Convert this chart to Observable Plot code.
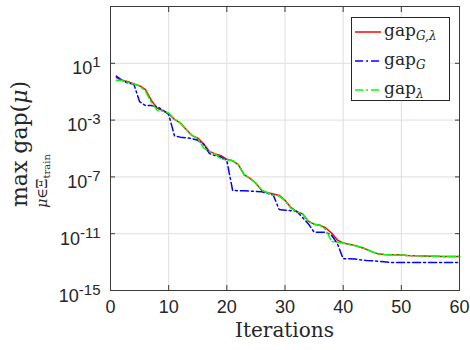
<!DOCTYPE html>
<html>
<head>
<meta charset="utf-8">
<script src="https://cdn.jsdelivr.net/npm/d3@7"></script>
<script src="https://cdn.jsdelivr.net/npm/@observablehq/plot@0.6"></script>
<style>
  html, body { margin: 0; padding: 0; background: #fff; }
  #chart { width: 470px; height: 350px; }
</style>
</head>
<body>
<div id="chart"></div>
<script>
// Iteration index
const iterations = [1,2,3,4,5,6,7,8,9,10,11,12,13,14,15,16,17,18,19,20,
  21,22,23,24,25,26,27,28,29,30,31,32,33,34,35,36,37,38,39,40,
  41,42,43,44,45,46,47,48,49,50,51,52,53,54,55,56,57,58,59,60];

// log10 of max gap
const gapGLambdaExp = [0.0,-0.2,-0.3,-0.45,-0.58,-0.85,-1.6,-2.16,-2.33,-2.55,
  -2.95,-3.2,-3.65,-4.08,-4.27,-4.67,-5.2,-5.38,-5.5,-5.76,
  -5.86,-6.15,-6.85,-7.1,-7.45,-7.95,-8.12,-8.2,-8.3,-8.65,
  -9.15,-9.45,-9.6,-10.12,-10.33,-10.4,-10.6,-10.95,-11.45,-11.65,
  -11.75,-11.83,-11.95,-12.1,-12.28,-12.42,-12.46,-12.48,-12.49,-12.5,
  -12.53,-12.55,-12.56,-12.57,-12.58,-12.59,-12.6,-12.6,-12.61,-12.61];

const gapGExp = [0.1,-0.2,-0.4,-0.45,-1.7,-1.97,-1.97,-2.05,-2.3,-2.6,
  -4.1,-4.2,-4.25,-4.3,-4.42,-4.7,-5.35,-5.5,-5.6,-5.85,
  -7.96,-7.97,-7.98,-8.0,-8.02,-8.05,-8.15,-8.3,-9.3,-9.35,
  -9.38,-9.42,-9.85,-10.3,-10.89,-10.9,-10.9,-11.1,-11.7,-12.77,
  -12.77,-12.78,-12.84,-12.88,-12.91,-12.94,-12.98,-13.02,-13.03,-13.03,
  -13.03,-13.03,-13.03,-13.03,-13.03,-13.03,-13.03,-13.03,-13.03,-13.03];

const gapLambdaExp = [-0.2,-0.2,-0.35,-0.45,-0.6,-0.95,-1.75,-2.3,-2.38,-2.5,
  -2.95,-3.2,-3.65,-4.08,-4.3,-4.95,-5.2,-5.4,-5.75,-5.78,
  -5.86,-6.15,-6.85,-7.1,-7.45,-7.95,-8.12,-8.3,-8.35,-8.65,
  -9.2,-9.45,-9.6,-10.12,-10.33,-10.4,-10.7,-11.55,-11.6,-11.65,
  -11.75,-11.83,-11.95,-12.1,-12.28,-12.42,-12.46,-12.48,-12.49,-12.5,
  -12.53,-12.55,-12.56,-12.57,-12.58,-12.59,-12.6,-12.6,-12.61,-12.61];

const xTicks = [0,10,20,30,40,50,60];
const yTicks = [1e-15,1e-11,1e-7,1e-3,1e1];

const toRows = (exps) => iterations.map((it, i) => ({it, v: Math.pow(10, exps[i])}));
const redRows = toRows(gapGLambdaExp);
const blueRows = toRows(gapGExp);
const greenRows = toRows(gapLambdaExp);

const axisColor = "#3a3a3a";
const gridColor = "#dfdfdf";

const chart = Plot.plot({
  width: 470,
  height: 350,
  marginLeft: 110,
  marginRight: 11,
  marginTop: 6,
  marginBottom: 60,
  style: {fontFamily: "'Liberation Sans', Arial, sans-serif", fontSize: "18px", color: "#262626", background: "#fff", overflow: "visible"},
  x: {domain: [0, 60]},
  y: {type: "log", domain: [1e-15, 1e5]},
  marks: [
    Plot.gridX({ticks: xTicks, stroke: gridColor, strokeOpacity: 1}),
    Plot.gridY({ticks: yTicks, stroke: gridColor, strokeOpacity: 1}),
    Plot.axisX({ticks: xTicks, tickSize: -5, tickPadding: 15, label: null, stroke: axisColor, fill: "#262626"}),
    Plot.axisX({anchor: "top", ticks: xTicks, tickSize: -5, tickFormat: () => "", label: null, stroke: axisColor}),
    Plot.axisY({ticks: yTicks, tickSize: -5, tickPadding: 15, label: null, stroke: axisColor, fill: "#262626",
      tickFormat: d => String(Math.round(Math.log10(d)))}),
    Plot.axisY({anchor: "right", ticks: yTicks, tickSize: -5, tickFormat: () => "", label: null, stroke: axisColor}),
    Plot.line(redRows, {x: "it", y: "v", stroke: "#ff0000", strokeWidth: 1.5}),
    Plot.line(blueRows, {x: "it", y: "v", stroke: "#0000ff", strokeWidth: 1.5, strokeDasharray: "8,3,2,3"}),
    Plot.line(greenRows, {x: "it", y: "v", stroke: "#00ff00", strokeWidth: 1.5, strokeDasharray: "8,3,2,3"}),
    Plot.frame({stroke: axisColor, strokeWidth: 1})
  ]
});

document.getElementById("chart").appendChild(chart);

const svg = d3.select(chart);

// y tick labels as 10^k (left axis only; right axis labels are empty)
svg.selectAll('g[aria-label="y-axis tick label"] text').each(function() {
  const t = d3.select(this);
  const exp = t.text();
  if (!exp) return;
  t.text("");
  t.attr("y", "0.62em");
  t.append("tspan").text("10");
  t.append("tspan").attr("dy", -7).attr("font-size", 15).text(exp);
});

const serif = "'DejaVu Serif', 'Liberation Serif', serif";

// x label
svg.append("text")
  .attr("x", 284.5).attr("y", 337)
  .attr("text-anchor", "middle")
  .attr("font-family", serif).attr("font-size", 20).attr("fill", "#262626")
  .text("Iterations");

// y label
const yl = svg.append("g").attr("transform", "translate(27,144) rotate(-90)")
  .attr("font-family", serif).attr("fill", "#262626");
const yt = yl.append("text").attr("text-anchor", "middle").attr("font-size", 22);
yt.append("tspan").text("max gap(");
yt.append("tspan").attr("font-style", "italic").text("μ");
yt.append("tspan").text(")");
const ys = yl.append("text").attr("x", -37).attr("y", 20).attr("text-anchor", "middle").attr("font-size", 14);
ys.append("tspan").attr("font-style", "italic").text("μ");
ys.append("tspan").text("∈Ξ");
ys.append("tspan").attr("font-size", 10).attr("dy", 3).text("train");

// legend
const lg = svg.append("g");
lg.append("rect").attr("x", 351.5).attr("y", 17.5).attr("width", 98).attr("height", 83)
  .attr("fill", "#fff").attr("stroke", "#262626").attr("stroke-width", 1);
const entries = [
  {color: "#ff0000", dash: null, sub: "G,λ", y: 32},
  {color: "#0000ff", dash: "8,3,2,3", sub: "G", y: 61},
  {color: "#00ff00", dash: "8,3,2,3", sub: "λ", y: 90}
];
entries.forEach(e => {
  lg.append("line").attr("x1", 355).attr("x2", 381).attr("y1", e.y).attr("y2", e.y)
    .attr("stroke", e.color).attr("stroke-width", 1.5).attr("stroke-dasharray", e.dash);
  const t = lg.append("text").attr("x", 384).attr("y", e.y + 4)
    .attr("text-anchor", "start")
    .attr("font-family", serif).attr("font-size", 17).attr("fill", "#262626");
  t.append("tspan").text("gap");
  t.append("tspan").attr("font-style", "italic").attr("font-size", 12).attr("dy", 4).text(e.sub);
});
</script>
</body>
</html>
